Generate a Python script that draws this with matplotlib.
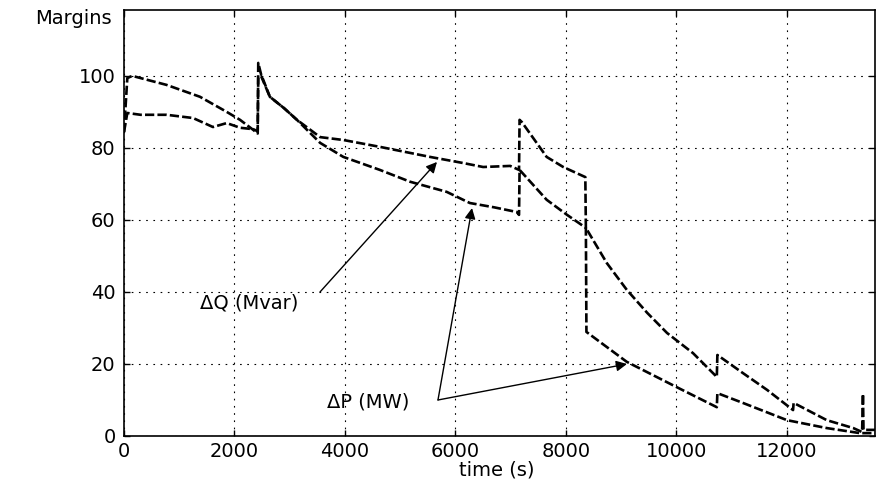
import matplotlib
matplotlib.use('Agg')
import matplotlib.pyplot as plt

# time axis (s) and margins
dp_t = [0, 60, 150, 770, 1375, 1860, 2100, 2340, 2420, 2430, 2480, 2640, 2900, 3130,
        3550, 3970, 4630, 5180, 5840, 6260, 6700, 7110, 7150, 7160, 7650, 8020, 8360,
        8370, 9100, 10000, 10730, 10740, 11200, 12000, 12720, 13320, 13600]
dp_v = [84.4, 99.4, 100, 97.5, 94.2, 90, 87.8, 85.0, 84.0, 103.6, 100.5, 94.2, 91, 87.8,
        81.4, 77.5, 73.9, 70.6, 67.8, 64.7, 63.5, 62.2, 61.4, 73.9, 65.6, 61.4, 57.8,
        28.9, 20.6, 13.6, 8.0, 11.9, 9.2, 4.4, 2.2, 0.8, 0.8]

dq_t = [0, 60, 300, 770, 1250, 1610, 1860, 2100, 2340, 2420, 2430, 2480, 2640, 2900, 3130,
        3550, 3970, 4630, 5540, 6140, 6500, 6990, 7150, 7160, 7200, 7650, 7950, 8350,
        8360, 8740, 9100, 9470, 9830, 10300, 10730, 10740, 11200, 11640, 12110, 12120,
        12720, 13200, 13360, 13375, 13385, 13600]
dq_v = [84.4, 89.7, 89.2, 89.2, 88.3, 85.8, 86.9, 85.6, 85.2, 84.6, 99.7, 100, 94.2, 91, 87.8,
        83.0, 82.2, 80.3, 77.5, 75.8, 74.7, 75.0, 73.9, 87.8, 87.2, 77.5, 74.7, 71.9,
        57.8, 48.0, 40.6, 34.2, 28.6, 23.0, 16.4, 22.5, 17.5, 12.8, 7.2, 9.2,
        4.4, 2.2, 1.1, 11.7, 1.7, 1.7]

x_ticks = [0, 2000, 4000, 6000, 8000, 10000, 12000]
y_ticks = [0, 20, 40, 60, 80, 100]

plt.rcParams['font.family'] = ['DejaVu Sans']
plt.rcParams['font.size'] = 14

fig = plt.figure(figsize=(8.76, 4.88), dpi=100)
ax = fig.add_axes([0.14155, 0.10656, 0.8573, 0.87295])

ax.plot(dp_t, dp_v, color='k', lw=1.9, linestyle=(0, (3.5, 1.2)))
ax.plot(dq_t, dq_v, color='k', lw=1.9, linestyle=(0, (3.5, 1.2)))

ax.set_xlim(0, 13593)
ax.set_ylim(0, 118.3)
ax.set_xticks(x_ticks)
ax.set_yticks(y_ticks)
ax.grid(True, color='k', lw=0.8, linestyle=(0, (1.5, 5)))
ax.tick_params(direction='in', length=4, width=1, top=True, right=True)
ax.tick_params(axis='x', pad=4)
ax.tick_params(axis='y', pad=6)
for s in ax.spines.values():
    s.set_linewidth(1.2)

ax.set_xlabel('time (s)')
ax.xaxis.set_label_coords(0.4967, -0.08)
ax.xaxis.label.set_verticalalignment('center')
ax.text(-0.016, 0.981, 'Margins', transform=ax.transAxes, ha='right', va='center')

arrow = dict(arrowstyle='-|>', color='k', lw=1, mutation_scale=16, shrinkA=0, shrinkB=0)
ax.text(1376, 36.9, 'ΔQ (Mvar)', ha='left', va='center')
ax.annotate('', xy=(5665, 76.1), xytext=(3548, 40.0), arrowprops=arrow)

ax.text(3674, 9.4, 'ΔP (MW)', ha='left', va='center')
ax.annotate('', xy=(6299, 63.3), xytext=(5683, 10.0), arrowprops=arrow)
ax.annotate('', xy=(9104, 20.0), xytext=(5683, 10.0), arrowprops=arrow)

fig.savefig('out.png', dpi=100)
